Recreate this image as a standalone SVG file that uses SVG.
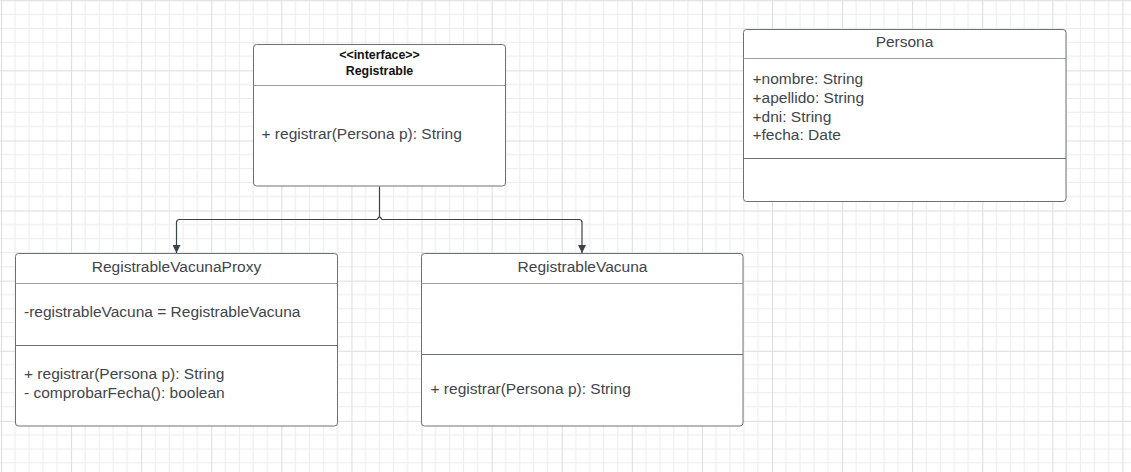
<svg xmlns="http://www.w3.org/2000/svg" width="1131" height="472" viewBox="0 0 1131 472">
  <defs>
    <pattern id="grid" patternUnits="userSpaceOnUse" x="1" y="0.3" width="70.09" height="70.09">
      <path d="M14.02 0V70.09M28.04 0V70.09M42.05 0V70.09M56.07 0V70.09M0 14.02H70.09M0 28.04H70.09M0 42.05H70.09M0 56.07H70.09" stroke="#ececec" stroke-width="1" fill="none"/>
      <path d="M0.5 0V70.09M0 0.5H70.09" stroke="#dcdcdc" stroke-width="1" fill="none"/>
    </pattern>
    <marker id="arrow" viewBox="0 0 10 10" refX="10" refY="5" markerWidth="8" markerHeight="8" markerUnits="userSpaceOnUse" orient="auto">
      <path d="M0 0L10 5L0 10Z" fill="#3d424a"/>
    </marker>
  </defs>
  <style>
    .box{fill:#ffffff;stroke:#6b7078;stroke-width:1}
    .div1{stroke:#9a9ea4;stroke-width:1}
    .div2{stroke:#6b7078;stroke-width:1}
    .t{font-family:"Liberation Sans",Arial,sans-serif;font-size:15.5px;fill:#40454d}
    .c{text-anchor:middle}
    .b{font-weight:bold;font-size:12.4px;fill:#111111}
    .conn{fill:none;stroke:#3d424a;stroke-width:1.2}
  </style>
  <rect width="1131" height="472" fill="#ffffff"/>
  <rect width="1131" height="472" fill="url(#grid)"/>

  <g id="connectors">
    <path class="conn" d="M379.5 186.5V216.5" />
    <path class="conn" d="M379.5 216.5L377 219.5H179.5Q176.5 219.5 176.5 222.5V253" marker-end="url(#arrow)"/>
    <path class="conn" d="M379.5 216.5L382 219.5H579Q582 219.5 582 222.5V253" marker-end="url(#arrow)"/>
  </g>

  <g id="registrable">
    <rect class="box" x="253.5" y="44.5" width="252" height="141.5" rx="3"/>
    <line class="div1" x1="253.5" y1="85.5" x2="505.5" y2="85.5"/>
    <text class="t c b" x="379.5" y="59">&lt;&lt;interface&gt;&gt;</text>
    <text class="t c b" x="379.5" y="74.5">Registrable</text>
    <text class="t" x="261.5" y="138.5">+ registrar(Persona p): String</text>
  </g>

  <g id="persona">
    <rect class="box" x="743.5" y="29.5" width="322.5" height="172" rx="3"/>
    <line class="div1" x1="743.5" y1="58.5" x2="1066" y2="58.5"/>
    <line class="div2" x1="743.5" y1="158.5" x2="1066" y2="158.5" stroke="#4a4f57"/>
    <text class="t c" x="904.5" y="47">Persona</text>
    <text class="t" x="752.5" y="84">+nombre: String</text>
    <text class="t" x="752.5" y="103">+apellido: String</text>
    <text class="t" x="752.5" y="121.5">+dni: String</text>
    <text class="t" x="752.5" y="140">+fecha: Date</text>
  </g>

  <g id="registrableVacunaProxy">
    <rect class="box" x="15.5" y="253.5" width="322" height="172.5" rx="3"/>
    <line class="div1" x1="15.5" y1="283.5" x2="337.5" y2="283.5"/>
    <line class="div2" x1="15.5" y1="345.5" x2="337.5" y2="345.5"/>
    <text class="t c" x="176.5" y="271.5">RegistrableVacunaProxy</text>
    <text class="t" x="24" y="316.5">-registrableVacuna = RegistrableVacuna</text>
    <text class="t" x="24" y="379">+ registrar(Persona p): String</text>
    <text class="t" x="24" y="397.5">- comprobarFecha(): boolean</text>
  </g>

  <g id="registrableVacuna">
    <rect class="box" x="421.5" y="253.5" width="321.5" height="172.5" rx="3"/>
    <line class="div1" x1="421.5" y1="283.5" x2="743" y2="283.5"/>
    <line class="div2" x1="421.5" y1="354.5" x2="743" y2="354.5"/>
    <text class="t c" x="582.5" y="271.5">RegistrableVacuna</text>
    <text class="t" x="430.5" y="394">+ registrar(Persona p): String</text>
  </g>
</svg>
